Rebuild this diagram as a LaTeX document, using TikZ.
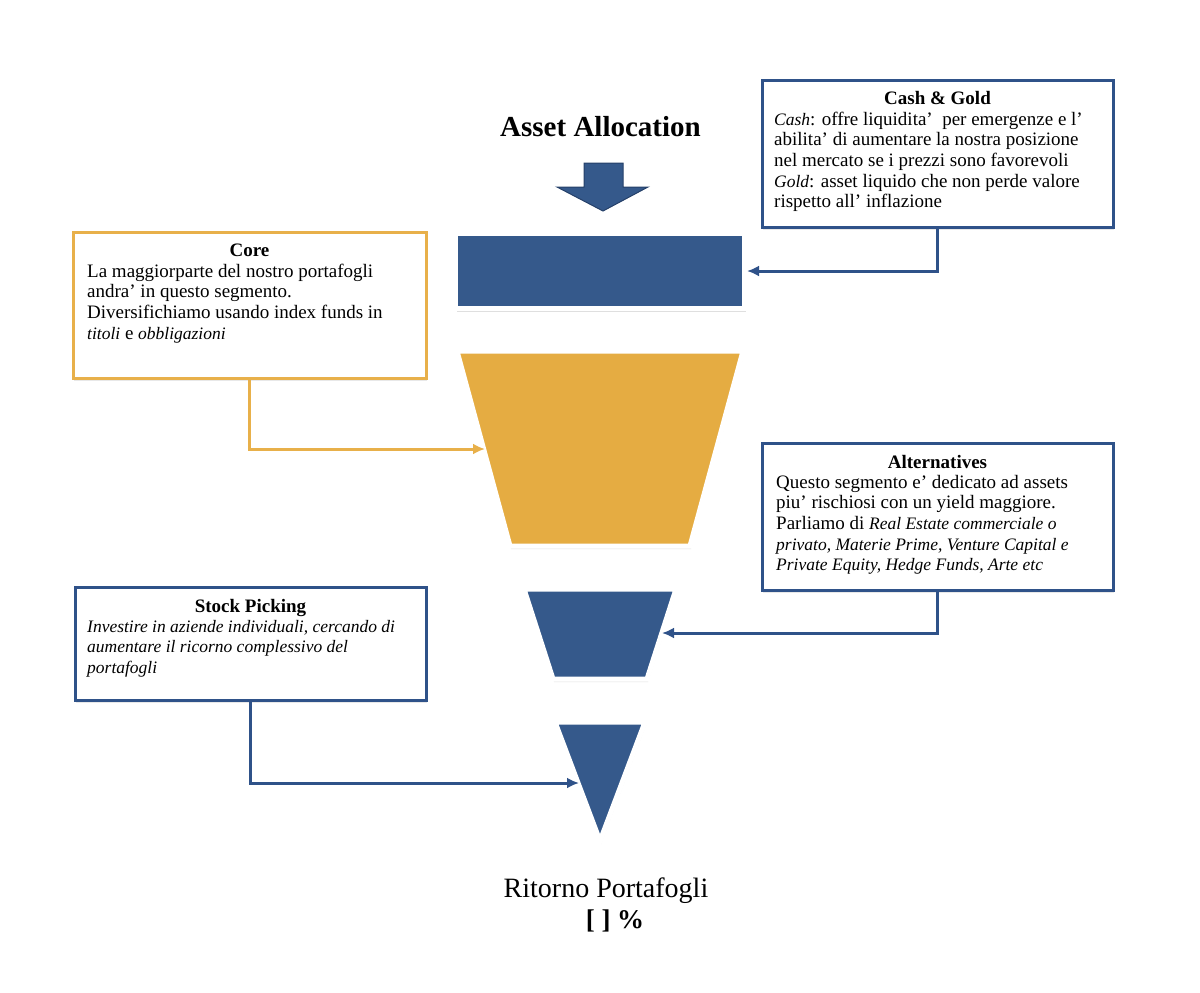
\documentclass[tikz,border=0pt]{standalone}
\usepackage{fontspec}
\setmainfont{Liberation Serif}
\usetikzlibrary{shadows,arrows.meta}
\definecolor{fblue}{RGB}{53,89,139}
\definecolor{dblue}{RGB}{37,64,105}
\definecolor{lblue}{RGB}{47,82,137}
\definecolor{forange}{RGB}{229,172,66}
\definecolor{lorange}{RGB}{232,176,74}
\newcommand{\myit}[1]{{\fontsize{17.5}{20.6}\selectfont\itshape #1}}
\tikzset{
  shp/.style={draw=white, line width=5pt, line join=miter,
    drop shadow={opacity=0.25, shadow xshift=1pt, shadow yshift=-3pt}},
  box/.style={draw=#1, line width=3pt, fill=white, inner sep=0pt, outer sep=0pt,
    anchor=north west, drop shadow={opacity=0.18, shadow xshift=1pt, shadow yshift=-3pt}},
  conn/.style={draw=#1, line width=3pt, -{Latex[length=12pt,width=11pt]}},
  ttl/.style={anchor=base, inner sep=0pt, font=\fontsize{19}{20.6}\selectfont\bfseries},
  body/.style={anchor=north west, inner sep=0pt, align=left, font=\fontsize{19}{20.6}\selectfont},
}
\begin{document}
\begin{tikzpicture}[x=1pt,y=-1pt]
\useasboundingbox (0,0) rectangle (1200,993);

% title and down arrow
\node[anchor=base, inner sep=0pt, font=\fontsize{29}{32}\selectfont\bfseries] (title) at (600.5,136) {Asset Allocation};
\path[fill=fblue, draw=dblue, line width=1pt]
  (584,163) -- (623,163) -- (623,187) -- (648,187) -- (603,211) -- (557,187) -- (584,187) -- cycle;

% funnel segments
\node[shp, fill=fblue, minimum width=289pt, minimum height=75pt, inner sep=0pt] (rectA) at (600,271) {};
\path[shp, fill=forange] (457,351) -- (743,351) -- (690,546) -- (510,546) -- cycle;
\path[shp, fill=fblue] (524,589) -- (676,589) -- (647,679) -- (553,679) -- cycle;
\path[shp, fill=fblue] (555,722) -- (645,722) -- (600,841) -- cycle;

\coordinate (cashIn) at (747,271);
\coordinate (coreIn) at (485,449);
\coordinate (altIn) at (662,633);
\coordinate (stockIn) at (579,783);

% boxes
\node[box=lblue, minimum width=351pt, minimum height=147pt] (cash) at (762,80) {};
\node[box=lorange, minimum width=353pt, minimum height=146pt] (core) at (73,232) {};
\node[box=lblue, minimum width=351pt, minimum height=147pt] (alt) at (762,443) {};
\node[box=lblue, minimum width=351pt, minimum height=113pt] (stock) at (75,587) {};

% connectors
\draw[conn=lblue] (cash.south) |- (cashIn);
\draw[conn=lorange] (core.south) |- (coreIn);
\draw[conn=lblue] (alt.south) |- (altIn);
\draw[conn=lblue] (stock.south) |- (stockIn);

% box texts
\node[ttl] (cashT) at (937.5,104) {Cash \& Gold};
\node[body] (cashB) at (774,110.6) {\strut\myit{Cash}: offre liquidita'\ \ per emergenze e l'\\
abilita' di aumentare la nostra posizione\\
nel mercato se i prezzi sono favorevoli\\
\myit{Gold}: asset liquido che non perde valore\\
rispetto all' inflazione};

\node[ttl] (coreT) at (249.5,256) {Core};
\node[body] (coreB) at (87,262.6) {\strut La maggiorparte del nostro portafogli\\
andra' in questo segmento.\\
Diversifichiamo usando index funds in\\
\myit{titoli} e \myit{obbligazioni}};

\node[ttl] (altT) at (937.5,468) {Alternatives};
\node[body] (altB) at (776,473.6) {\strut Questo segmento e' dedicato ad assets\\
piu' rischiosi con un yield maggiore.\\
Parliamo di \myit{Real Estate commerciale o}\\
\myit{privato, Materie Prime, Venture Capital e}\\
\myit{Private Equity, Hedge Funds, Arte etc}};

\node[ttl] (stockT) at (250.5,612) {Stock Picking};
\node[body] (stockB) at (87,617.6) {\strut\myit{Investire in aziende individuali, cercando di}\\
\myit{aumentare il ricorno complessivo del}\\
\myit{portafogli}};

% result
\node[anchor=base, inner sep=0pt, font=\fontsize{28}{32}\selectfont] (ret) at (606,897) {Ritorno Portafogli};
\node[anchor=base, inner sep=0pt, font=\fontsize{27}{32}\selectfont\bfseries] (pct) at (615,928) {[ ] \%};
\end{tikzpicture}
\end{document}
